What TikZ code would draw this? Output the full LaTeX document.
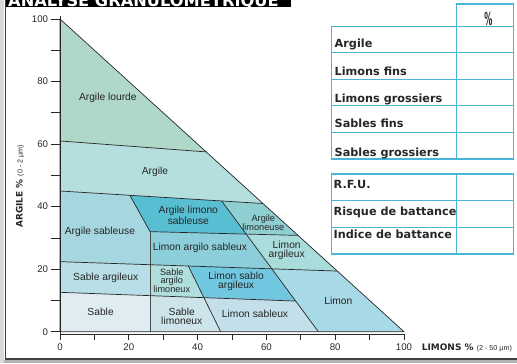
\documentclass[tikz,border=0pt]{standalone}
\usepackage{fontspec}
\setmainfont{Liberation Sans}
\newfontfamily\tabfont{DejaVu Sans}

\definecolor{clourde}{RGB}{176,216,200}
\definecolor{cargile}{RGB}{181,223,223}
\definecolor{casab}{RGB}{166,214,223}
\definecolor{calimsab}{RGB}{88,191,210}
\definecolor{calim}{RGB}{143,207,210}
\definecolor{clargsab}{RGB}{140,207,219}
\definecolor{clarg}{RGB}{169,220,218}
\definecolor{csarg}{RGB}{184,223,232}
\definecolor{csarglim}{RGB}{176,222,221}
\definecolor{clsabarg}{RGB}{114,199,224}
\definecolor{climon}{RGB}{168,217,230}
\definecolor{csable}{RGB}{223,237,242}
\definecolor{csablim}{RGB}{206,228,235}
\definecolor{clsab}{RGB}{195,224,234}
\definecolor{tabblue}{RGB}{73,182,214}

\tikzset{
  zone/.style={draw=black!85, line width=0.7bp, line join=round},
  zonelabel/.style={font=\fontsize{10.3}{9}\selectfont, text=black!85, align=center, inner sep=0pt},
  smalllabel/.style={font=\fontsize{9.2}{8.3}\selectfont, text=black!85, align=center, inner sep=0pt},
  ticklabel/.style={font=\fontsize{9.7}{10}\selectfont, text=black!85, inner sep=0pt},
  cell/.style={draw=tabblue, line width=1.2bp},
  rowlabel/.style={font=\tabfont\bfseries\fontsize{11.3}{12}\selectfont, anchor=base west, inner sep=0pt, text=black!85},
}

\begin{document}
\begin{tikzpicture}[x=1bp,y=-1bp]
        \useasboundingbox (0,0) rectangle (517,363);
        % --- Frame ---
        \fill[gray!30] (0,0) rectangle (4,363);
        \fill[gray!60] (4,360) rectangle (517,363);
        \draw[black!75, line width=1.5bp] (5.5,0) -- (5.5,359) -- (517,359);
        % --- Title ---
        \begin{scope}
            \clip (0,0) rectangle (517,363);
            \fill[black] (6,0) rectangle (290.7,7.3);
            \node[anchor=base west, text=white, inner sep=0pt,
                  font=\tabfont\bfseries\fontsize{16.3}{17}\selectfont]
                  (title) at (8,6) {ANALYSE GRANULOMÉTRIQUE};
        \end{scope}
        % --- Triangle ---
        \begin{scope}[shift={(60bp,-331.7bp)}, x=3.44bp, y=3.127bp]
            \coordinate (o) at (0,0);
            \coordinate (r) at (100,0);
            \coordinate (top) at (0,100);
            \coordinate (a1) at (0,61);
            \coordinate (a2) at (42.5,57.5);
            \coordinate (b1) at (0,45);
            \coordinate (b2) at (20.3,43.62);
            \coordinate (b3) at (47,41.81);
            \coordinate (b4) at (59,41);
            \coordinate (c1) at (26.2,32);
            \coordinate (c2) at (54.1,31.2);
            \coordinate (c3) at (69.2,30.8);
            \coordinate (d1) at (0,22.4);
            \coordinate (d2) at (26.2,21.43);
            \coordinate (d3) at (37.3,21.02);
            \coordinate (d4) at (61.6,20.1);
            \coordinate (d5) at (80.6,19.4);
            \coordinate (e1) at (0,12.6);
            \coordinate (e2) at (26.2,11.53);
            \coordinate (e3) at (41.83,10.89);
            \coordinate (e4) at (68.5,9.8);
            \coordinate (f1) at (26.2,0);
            \coordinate (f2) at (46.7,0);
            \coordinate (f3) at (75.1,0);
            % fills
            \fill[clourde] (top) -- (a1) -- (a2) -- cycle;
            \fill[cargile] (a1) -- (a2) -- (b4) -- (b1) -- cycle;
            \fill[casab] (b1) -- (b2) -- (c1) -- (d2) -- (d1) -- cycle;
            \fill[calimsab] (b2) -- (b3) -- (c2) -- (c1) -- cycle;
            \fill[calim] (b3) -- (b4) -- (c3) -- (c2) -- cycle;
            \fill[clargsab] (c1) -- (c2) -- (d4) -- (d2) -- cycle;
            \fill[clarg] (c2) -- (c3) -- (d5) -- (d4) -- cycle;
            \fill[csarg] (d1) -- (d2) -- (e2) -- (e1) -- cycle;
            \fill[csarglim] (d2) -- (d3) -- (e3) -- (e2) -- cycle;
            \fill[clsabarg] (d3) -- (d4) -- (e4) -- (e3) -- cycle;
            \fill[climon] (d4) -- (d5) -- (r) -- (f3) -- cycle;
            \fill[csable] (e1) -- (e2) -- (f1) -- (o) -- cycle;
            \fill[csablim] (e2) -- (e3) -- (f2) -- (f1) -- cycle;
            \fill[clsab] (e3) -- (e4) -- (f3) -- (f2) -- cycle;
            % boundaries
            \draw[zone, gray!60!black] (c1) -- (f1);
            \draw[zone] (a1) -- (a2);
            \draw[zone] (b1) -- (b4);
            \draw[zone] (b2) -- (c1) -- (c3);
            \draw[zone] (b3) -- (f3);
            \draw[zone] (d1) -- (d5);
            \draw[zone] (e1) -- (e4);
            \draw[zone] (d3) -- (f2);
            \draw[zone] (o) -- (r) -- (top) -- cycle;
            % labels
            \node[zonelabel] (lourde) at (13.9,74.8) {Argile lourde};
            \node[zonelabel] (argile) at (27.6,51) {Argile};
            \node[zonelabel] (asab) at (11.6,32) {Argile sableuse};
            \node[zonelabel] (alimsab) at (37.3,37.3) {Argile limono\\sableuse};
            \node[smalllabel] (alim) at (59.1,34.9) {Argile\\limoneuse};
            \node[zonelabel] (largsab) at (40.7,26.7) {Limon argilo sableux};
            \node[zonelabel] (larg) at (65.9,25.9) {Limon\\argileux};
            \node[zonelabel] (sarg) at (13.3,17.3) {Sable argileux};
            \node[smalllabel] (sarglim) at (32.5,16.3) {Sable\\argilo\\limoneux};
            \node[zonelabel] (lsabarg) at (51.2,16.2) {Limon sablo\\argileux};
            \node[zonelabel] (limon) at (80.9,9.8) {Limon};
            \node[zonelabel] (sable) at (11.8,6.2) {Sable};
            \node[zonelabel] (sablim) at (35.4,5) {Sable\\limoneux};
            \node[zonelabel] (lsab) at (56.7,5.7) {Limon sableux};
            % axes
            \draw[line width=0.9bp, black!85] (0,101) -- (0,-0.74) -- (100,-0.74);
            \foreach \y in {0,10,...,100}
                \draw[line width=0.7bp, black!85] (0,\y) -- (-2.5,\y);
            \foreach \y in {0,20,...,100}
                \node[ticklabel, anchor=east] (ytick\y) at (-3.4,\y) {\y};
            \foreach \x in {0,10,...,100}
                \draw[line width=0.7bp, black!85] (\x,-0.74) -- (\x,-2.6);
            \foreach \x in {0,20,...,100}
                \node[ticklabel, anchor=base] (xtick\x) at (\x,-6.1) {\x};
        \end{scope}
        % --- Axis titles ---
        \node[anchor=base west, inner sep=0pt, text=black!85] (xtitle) at (421.7,350.3)
            {\tabfont\bfseries\fontsize{9}{10}\selectfont LIMONS \%\ \normalfont\fontsize{7.2}{8}\selectfont(2 - 50 µm)};
        \node[anchor=west, rotate=90, inner sep=0pt, text=black!85] (ytitle) at (20,228)
            {\tabfont\bfseries\fontsize{9}{10}\selectfont ARGILE \%\ \normalfont\fontsize{7.2}{8}\selectfont(0 - 2 µm)};
        % --- Table 1 ---
        \draw[cell] (456.7,4) rectangle (513.3,26.7);
        \draw[cell] (331.7,26.7) rectangle (513.3,159);
        \foreach \y in {52.7,79.3,105.7,132.7}
            \draw[cell] (331.7,\y) -- (513.3,\y);
        \draw[cell] (456.7,26.7) -- (456.7,159);
        \node[anchor=base, inner sep=0pt, xscale=0.45, text=black!85,
              font=\tabfont\bfseries\fontsize{18}{18}\selectfont] (pct) at (488.3,25) {\%};
        \foreach \txt/\yb/\nm in {Argile/47.7/rargile, Limons fins/75.3/rlfins,
                Limons grossiers/102.7/rlgros, Sables fins/127.7/rsfins,
                Sables grossiers/156.7/rsgros}
            \node[rowlabel] (\nm) at (334.5,\yb) {\txt};
        % --- Table 2 ---
        \draw[cell] (331.7,174) rectangle (513.3,254);
        \foreach \y in {200.7,227.7}
            \draw[cell] (331.7,\y) -- (513.3,\y);
        \draw[cell] (456.7,174) -- (456.7,254);
        \foreach \txt/\yb/\nm in {R.F.U./188.3/rrfu, Risque de battance/215/rrisque,
                Indice de battance/238.3/rindice}
            \node[rowlabel] (\nm) at (333.5,\yb) {\txt};
    \end{tikzpicture}
\end{document}
